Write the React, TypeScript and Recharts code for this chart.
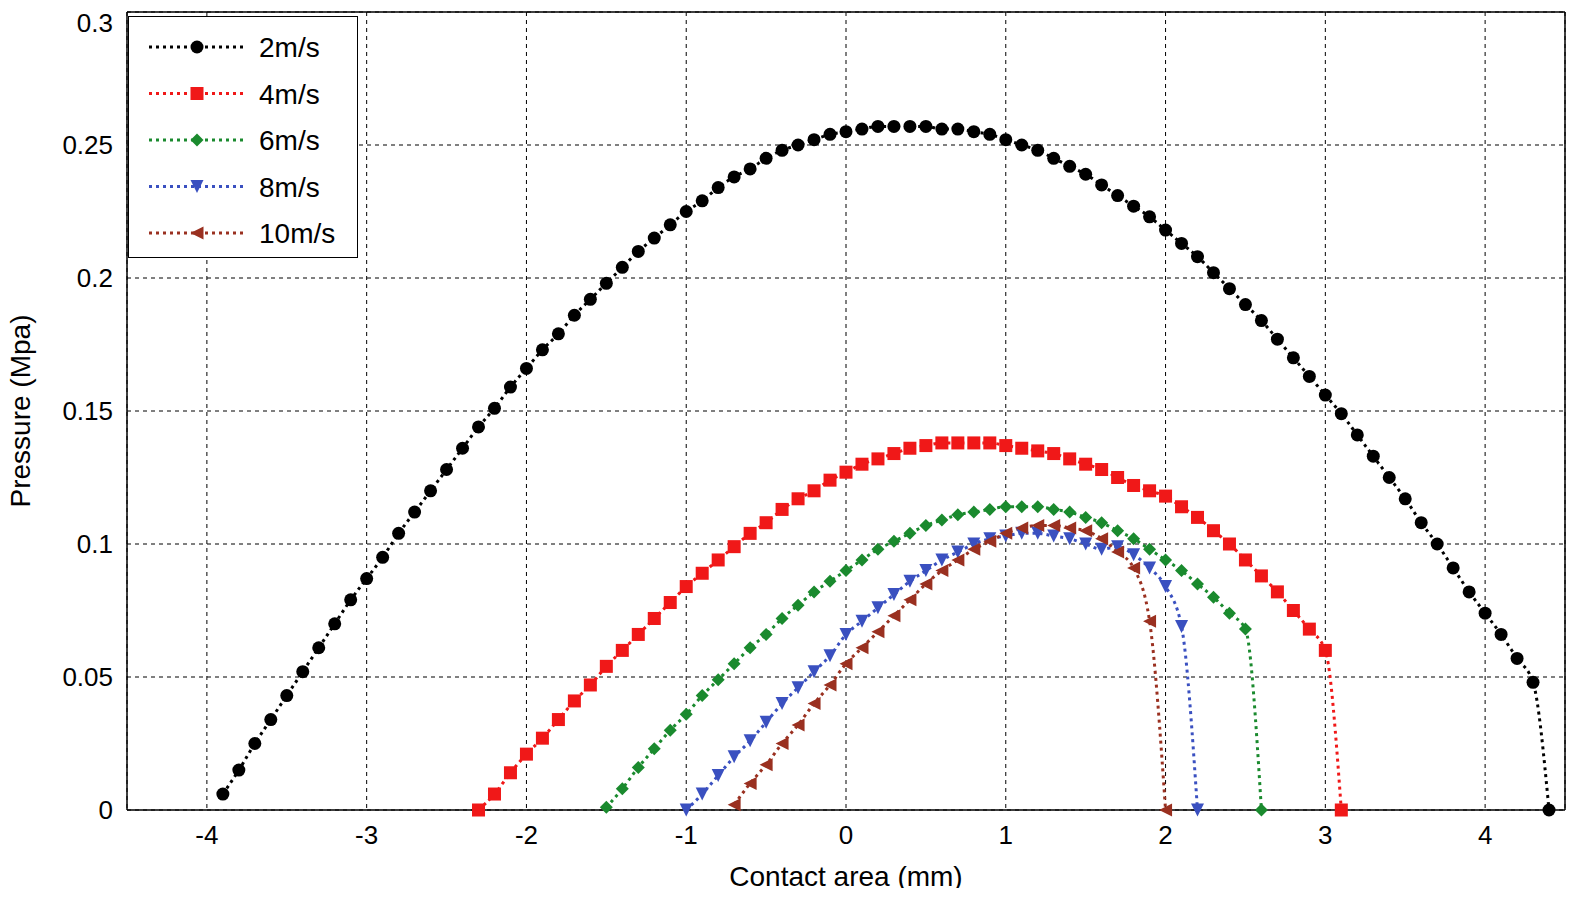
import React from "react";
import { LineChart, Line, XAxis, YAxis, CartesianGrid, ReferenceLine } from "recharts";

const xTicks = [-4, -3, -2, -1, 0, 1, 2, 3, 4];
const yTicks = [0, 0.05, 0.1, 0.15, 0.2, 0.25, 0.3];

const x2 = [-3.9,-3.8,-3.7,-3.6,-3.5,-3.4,-3.3,-3.2,-3.1,-3.0,-2.9,-2.8,-2.7,-2.6,-2.5,-2.4,-2.3,-2.2,-2.1,-2.0,-1.9,-1.8,-1.7,-1.6,-1.5,-1.4,-1.3,-1.2,-1.1,-1.0,-0.9,-0.8,-0.7,-0.6,-0.5,-0.4,-0.3,-0.2,-0.1,0,0.1,0.2,0.3,0.4,0.5,0.6,0.7,0.8,0.9,1.0,1.1,1.2,1.3,1.4,1.5,1.6,1.7,1.8,1.9,2.0,2.1,2.2,2.3,2.4,2.5,2.6,2.7,2.8,2.9,3.0,3.1,3.2,3.3,3.4,3.5,3.6,3.7,3.8,3.9,4.0,4.1,4.2,4.3,4.4];
const p2 = [0.006,0.015,0.025,0.034,0.043,0.052,0.061,0.070,0.079,0.087,0.095,0.104,0.112,0.120,0.128,0.136,0.144,0.151,0.159,0.166,0.173,0.179,0.186,0.192,0.198,0.204,0.210,0.215,0.220,0.225,0.229,0.234,0.238,0.241,0.245,0.248,0.250,0.252,0.254,0.255,0.256,0.257,0.257,0.257,0.257,0.256,0.256,0.255,0.254,0.252,0.250,0.248,0.245,0.242,0.239,0.235,0.231,0.227,0.223,0.218,0.213,0.208,0.202,0.196,0.190,0.184,0.177,0.170,0.163,0.156,0.149,0.141,0.133,0.125,0.117,0.108,0.100,0.091,0.082,0.074,0.066,0.057,0.048,0.000];

const x4 = [-2.3,-2.2,-2.1,-2.0,-1.9,-1.8,-1.7,-1.6,-1.5,-1.4,-1.3,-1.2,-1.1,-1.0,-0.9,-0.8,-0.7,-0.6,-0.5,-0.4,-0.3,-0.2,-0.1,0,0.1,0.2,0.3,0.4,0.5,0.6,0.7,0.8,0.9,1.0,1.1,1.2,1.3,1.4,1.5,1.6,1.7,1.8,1.9,2.0,2.1,2.2,2.3,2.4,2.5,2.6,2.7,2.8,2.9,3.0,3.1];
const p4 = [0,0.006,0.014,0.021,0.027,0.034,0.041,0.047,0.054,0.060,0.066,0.072,0.078,0.084,0.089,0.094,0.099,0.104,0.108,0.113,0.117,0.120,0.124,0.127,0.130,0.132,0.134,0.136,0.137,0.138,0.138,0.138,0.138,0.137,0.136,0.135,0.134,0.132,0.130,0.128,0.125,0.122,0.120,0.118,0.114,0.110,0.105,0.100,0.094,0.088,0.082,0.075,0.068,0.060,0];

const x6 = [-1.5,-1.4,-1.3,-1.2,-1.1,-1.0,-0.9,-0.8,-0.7,-0.6,-0.5,-0.4,-0.3,-0.2,-0.1,0,0.1,0.2,0.3,0.4,0.5,0.6,0.7,0.8,0.9,1.0,1.1,1.2,1.3,1.4,1.5,1.6,1.7,1.8,1.9,2.0,2.1,2.2,2.3,2.4,2.5,2.6];
const p6 = [0.001,0.008,0.016,0.023,0.030,0.036,0.043,0.049,0.055,0.061,0.066,0.072,0.077,0.082,0.086,0.090,0.094,0.098,0.101,0.104,0.107,0.109,0.111,0.112,0.113,0.114,0.114,0.114,0.113,0.112,0.110,0.108,0.105,0.102,0.098,0.094,0.090,0.085,0.080,0.074,0.068,0];

const x8 = [-1.0,-0.9,-0.8,-0.7,-0.6,-0.5,-0.4,-0.3,-0.2,-0.1,0,0.1,0.2,0.3,0.4,0.5,0.6,0.7,0.8,0.9,1.0,1.1,1.2,1.3,1.4,1.5,1.6,1.7,1.8,1.9,2.0,2.1,2.2];
const p8 = [0,0.006,0.013,0.020,0.026,0.033,0.040,0.046,0.052,0.058,0.066,0.071,0.076,0.081,0.086,0.090,0.094,0.097,0.100,0.102,0.103,0.104,0.104,0.103,0.102,0.100,0.098,0.099,0.096,0.091,0.084,0.069,0];

const x10 = [-0.7,-0.6,-0.5,-0.4,-0.3,-0.2,-0.1,0,0.1,0.2,0.3,0.4,0.5,0.6,0.7,0.8,0.9,1.0,1.1,1.2,1.3,1.4,1.5,1.6,1.7,1.8,1.9,2.0];
const p10 = [0.002,0.010,0.017,0.025,0.032,0.040,0.047,0.055,0.061,0.067,0.073,0.079,0.085,0.090,0.094,0.098,0.101,0.104,0.106,0.107,0.107,0.106,0.105,0.102,0.097,0.091,0.071,0];

const toRows = (xs: number[], ps: number[]) => xs.map((x, i) => ({ x, p: ps[i] }));

type Shape = "circle" | "square" | "diamond" | "down" | "left";
const series: { name: string; color: string; shape: Shape; xs: number[]; ps: number[] }[] = [
  { name: "2m/s", color: "#000000", shape: "circle", xs: x2, ps: p2 },
  { name: "4m/s", color: "#f01818", shape: "square", xs: x4, ps: p4 },
  { name: "6m/s", color: "#1a8a2e", shape: "diamond", xs: x6, ps: p6 },
  { name: "8m/s", color: "#3a50c0", shape: "down", xs: x8, ps: p8 },
  { name: "10m/s", color: "#9a3020", shape: "left", xs: x10, ps: p10 },
];

function Marker({ cx, cy, shape, color }: { cx: number; cy: number; shape: Shape; color: string }) {
  const s = 6.5;
  if (shape === "circle") return <circle cx={cx} cy={cy} r={s} fill={color} />;
  if (shape === "square") return <rect x={cx - s} y={cy - s} width={2 * s} height={2 * s} fill={color} />;
  if (shape === "diamond")
    return <polygon points={`${cx},${cy - s} ${cx + s},${cy} ${cx},${cy + s} ${cx - s},${cy}`} fill={color} />;
  if (shape === "down")
    return <polygon points={`${cx - s},${cy - s} ${cx + s},${cy - s} ${cx},${cy + s}`} fill={color} />;
  return <polygon points={`${cx + s},${cy - s} ${cx + s},${cy + s} ${cx - s},${cy}`} fill={color} />;
}

const font = "'Liberation Sans', Arial, sans-serif";

function YLabel(props: any) {
  const vb = props.viewBox || {};
  const cy = (vb.y ?? 0) + (vb.height ?? 0) / 2;
  const cx = 12;
  return (
    <text x={cx} y={cy} transform={`rotate(-90 ${cx} ${cy})`} textAnchor="middle" dominantBaseline="central" fontSize={28} fontFamily={font} fill="#000">
      Pressure (Mpa)
    </text>
  );
}

export default function App() {
  return (
    <div style={{ position: "relative", width: 1578, height: 880, fontFamily: font, overflow: "hidden" }}>
      <LineChart width={1578} height={880} margin={{ top: 4, right: 21, left: 0, bottom: 0 }}>
        <CartesianGrid stroke="#000" strokeDasharray="4 4" strokeWidth={1} />
        <XAxis
          type="number"
          dataKey="x"
          domain={[-4.5, 4.5]}
          ticks={xTicks}
          allowDataOverflow
          height={78}
          stroke="#000"
          strokeWidth={1.5}
          tickLine={false}
          tick={{ fill: "#000", fontSize: 26, fontFamily: font }}
          tickMargin={10}
          label={{ value: "Contact area (mm)", position: "insideBottom", offset: 2, fill: "#000", fontSize: 28, fontFamily: font }}
        />
        <YAxis
          type="number"
          domain={[0, 0.3]}
          ticks={yTicks}
          width={119}
          stroke="#000"
          strokeWidth={1.5}
          tickLine={false}
          tickFormatter={(v: number) => String(v)}
          tick={{ fill: "#000", fontSize: 26, fontFamily: font }}
          tickMargin={8}
          label={<YLabel />}
        />
        <ReferenceLine y={0.3} stroke="#000" strokeWidth={1.5} />
        <ReferenceLine x={4.5} stroke="#000" strokeWidth={1.5} />
        {series.map((s) => (
          <Line
            key={s.name}
            data={toRows(s.xs, s.ps)}
            dataKey="p"
            type="monotone"
            stroke={s.color}
            strokeWidth={3}
            strokeDasharray="3 4"
            isAnimationActive={false}
            dot={(props: any) => <Marker key={props.index} cx={props.cx} cy={props.cy} shape={s.shape} color={s.color} />}
          />
        ))}
      </LineChart>
      <div
        style={{
          position: "absolute",
          left: 120,
          top: 8,
          width: 230,
          height: 242,
          background: "#fff",
          border: "1.5px solid #000",
          boxSizing: "border-box",
        }}
      >
        <svg width={228} height={240}>
          {series.map((s, i) => {
            const y = 30 + i * 46.5;
            return (
              <g key={s.name}>
                <line x1={20} x2={116} y1={y} y2={y} stroke={s.color} strokeWidth={3} strokeDasharray="3 4" />
                <Marker cx={68} cy={y} shape={s.shape} color={s.color} />
                <text x={130} y={y + 10} fontSize={28} fontFamily={font} fill="#000">
                  {s.name}
                </text>
              </g>
            );
          })}
        </svg>
      </div>
    </div>
  );
}
